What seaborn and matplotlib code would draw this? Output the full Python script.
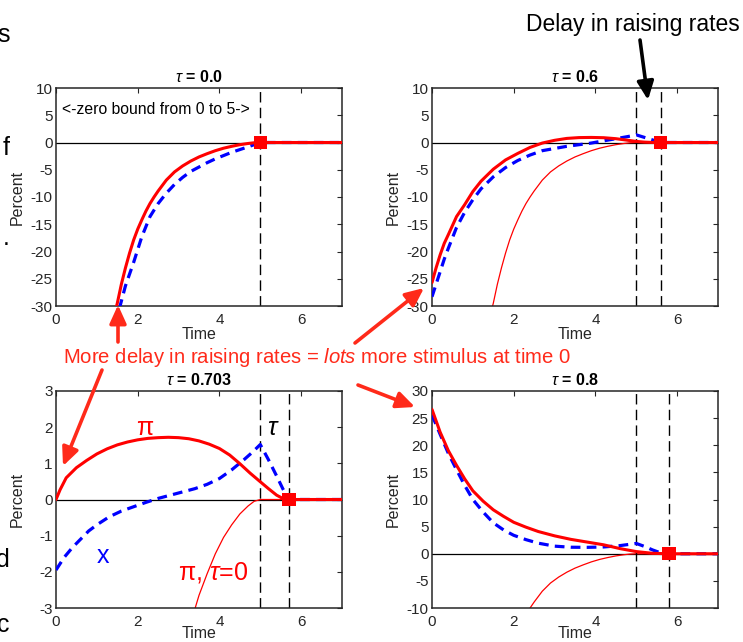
import matplotlib
matplotlib.use("Agg")
import matplotlib.pyplot as plt
import seaborn as sns
from matplotlib.patches import FancyArrowPatch

# ---------------- data ----------------
taus = [0.0, 0.6, 0.703, 0.8]
tau_labels = ["0.0", "0.6", "0.703", "0.8"]

# pi with tau = 0 (thick red in panel 1, thin red in the others)
t_pi0 = [1.45, 1.5, 1.6, 1.7, 1.8, 1.9, 2.0, 2.1, 2.2, 2.3, 2.4, 2.5, 2.6, 2.7, 2.9, 3.1, 3.3,
         3.5, 3.7, 3.9, 4.1, 4.3, 4.5, 4.7, 4.85, 5.0, 7.0]
pi0 = [-31.0, -29.5, -26.0, -23.0, -20.3, -17.9, -15.9, -14.2, -12.6, -11.2, -10.0, -8.9, -7.9,
       -6.9, -5.4, -4.3, -3.4, -2.65, -2.05, -1.5, -1.05, -0.7, -0.4, -0.18, -0.05, 0.0, 0.0]
# x with tau = 0
t_x0 = [1.55, 1.7, 1.9, 2.1, 2.3, 2.5, 2.7, 2.9, 3.1, 3.3, 3.5, 3.7, 3.9, 4.1, 4.3, 4.5, 4.7,
        4.85, 5.0, 7.0]
x0 = [-30.5, -26.3, -22.0, -17.3, -13.6, -11.2, -9.3, -7.7, -6.4, -5.3, -4.5, -3.7, -3.0, -2.4,
      -1.8, -1.3, -0.8, -0.4, 0.0, 0.0]

# tau = 0.6
t_pi1 = [0, 0.1, 0.2, 0.3, 0.4, 0.6, 0.8, 1.0, 1.2, 1.5, 1.8, 2.1, 2.4, 2.7, 3.0, 3.3, 3.6, 3.9,
         4.2, 4.5, 4.8, 5.0, 5.2, 5.4, 5.6, 7.0]
pi1 = [-25.7, -23.0, -20.6, -18.5, -16.9, -13.6, -11.4, -9.0, -7.1, -4.9, -3.2, -2.0, -0.9, -0.1,
       0.4, 0.75, 0.9, 0.93, 0.88, 0.7, 0.4, 0.2, 0.07, 0.01, 0.0, 0.0]
t_x1 = [0, 0.1, 0.2, 0.3, 0.4, 0.6, 0.8, 1.0, 1.2, 1.5, 1.8, 2.1, 2.4, 2.7, 3.0, 3.3, 3.6, 3.9,
        4.2, 4.5, 4.8, 5.0, 5.3, 5.6, 7.0]
x1 = [-28.3, -26.0, -23.7, -21.4, -19.4, -15.6, -12.8, -10.5, -8.5, -6.3, -4.6, -3.3, -2.3, -1.5,
      -1.1, -0.7, -0.4, -0.1, 0.3, 0.7, 1.1, 1.4, 0.7, 0.0, 0.0]

# tau = 0.703
t_pi2 = [0, 0.1, 0.25, 0.5, 0.75, 1.0, 1.25, 1.5, 1.75, 2.0, 2.25, 2.5, 2.75, 3.0, 3.25, 3.5,
         3.75, 4.0, 4.25, 4.5, 4.75, 5.0, 5.2, 5.4, 5.55, 5.7, 7.0]
pi2 = [0.0, 0.27, 0.6, 0.88, 1.08, 1.26, 1.4, 1.51, 1.59, 1.65, 1.69, 1.71, 1.72, 1.71, 1.68,
       1.62, 1.53, 1.41, 1.23, 0.99, 0.73, 0.49, 0.3, 0.12, 0.03, 0.0, 0.0]
t_x2 = [0, 0.2, 0.4, 0.6, 0.8, 1.0, 1.3, 1.6, 1.9, 2.2, 2.5, 2.8, 3.1, 3.4, 3.7, 4.0, 4.3, 4.6,
        4.8, 5.0, 5.2, 5.4, 5.55, 5.7, 7.0]
x2 = [-1.95, -1.6, -1.33, -1.1, -0.87, -0.7, -0.48, -0.32, -0.2, -0.08, 0.03, 0.12, 0.21, 0.3,
      0.42, 0.58, 0.82, 1.1, 1.3, 1.52, 1.1, 0.65, 0.3, 0.0, 0.0]

# tau = 0.8
t_pi3 = [0, 0.2, 0.4, 0.6, 0.8, 1.0, 1.25, 1.5, 1.75, 2.0, 2.3, 2.6, 3.0, 3.4, 3.8, 4.2, 4.6,
         5.0, 5.4, 5.8, 7.0]
pi3 = [26.6, 22.4, 19.0, 16.3, 13.8, 11.6, 9.7, 8.1, 6.9, 5.8, 4.9, 4.1, 3.3, 2.65, 2.15, 1.65,
       0.95, 0.4, 0.08, 0.0, 0.0]
t_x3 = [0, 0.2, 0.4, 0.6, 0.8, 1.0, 1.25, 1.5, 1.75, 2.0, 2.3, 2.6, 3.0, 3.4, 3.8, 4.2, 4.6,
        5.0, 5.2, 5.4, 5.6, 5.8, 7.0]
x3 = [25.6, 22.0, 18.5, 15.5, 12.6, 10.0, 7.7, 5.7, 4.4, 3.4, 2.6, 1.95, 1.4, 1.2, 1.18, 1.25,
      1.5, 1.9, 1.35, 0.7, 0.15, 0.0, 0.0]

pi_t = [t_pi0, t_pi1, t_pi2, t_pi3]
pi_v = [pi0, pi1, pi2, pi3]
x_t = [t_x0, t_x1, t_x2, t_x3]
x_v = [x0, x1, x2, x3]

ylims = [(-30, 10), (-30, 10), (-3, 3), (-10, 30)]
yticks = [list(range(-30, 11, 5)), list(range(-30, 11, 5)), list(range(-3, 4)),
          list(range(-10, 31, 5))]
xticks = [0, 2, 4, 6]
zero_bound_end = 5.0

# ---------------- style ----------------
sns.set_theme(style="white")
plt.rcParams['font.family'] = ['Liberation Sans', 'DejaVu Sans']
plt.rcParams['mathtext.fontset'] = 'custom'
plt.rcParams['mathtext.rm'] = 'Liberation Sans'
plt.rcParams['mathtext.it'] = 'Liberation Sans:italic'
plt.rcParams['mathtext.bf'] = 'Liberation Sans:bold'
plt.rcParams['lines.scale_dashes'] = False
plt.rcParams['axes.unicode_minus'] = False

RED = '#ff0000'
BLUE = '#0000ff'
ANN_RED = '#ff2a1a'
AXC = '#262626'

W, H = 743, 642
fig = plt.figure(figsize=(W / 100, H / 100), dpi=100)


def fx(x):
    return x / W


def fy(y):
    return 1 - y / H


axes_px = [(56, 88, 342, 306), (432, 88, 718, 306), (56, 391, 342, 608), (432, 391, 718, 608)]

for i, (l, t, r, b) in enumerate(axes_px):
    ax = fig.add_axes([fx(l), fy(b), (r - l) / W, (b - t) / H])
    tau = taus[i]
    ax.axhline(0, color='black', lw=0.9, zorder=1)
    if i > 0:
        sns.lineplot(x=t_pi0, y=pi0, ax=ax, color=RED, lw=0.9, estimator=None, zorder=2)
    sns.lineplot(x=x_t[i], y=x_v[i], ax=ax, color=BLUE, lw=2.3, linestyle=(0, (7, 4.5)),
                 estimator=None, zorder=3)
    sns.lineplot(x=pi_t[i], y=pi_v[i], ax=ax, color=RED, lw=2.2, estimator=None, zorder=4)
    ax.axvline(zero_bound_end, color='black', lw=1.0, linestyle=(0, (7.5, 3.8)), zorder=2)
    if tau > 0:
        ax.axvline(zero_bound_end + tau, color='black', lw=1.0, linestyle=(0, (7.5, 3.8)),
                   zorder=2)
    sns.scatterplot(x=[zero_bound_end + tau], y=[0], ax=ax, marker='s', s=90, color=RED,
                    edgecolor='none', zorder=6)

    ax.set_xlim(0, 7)
    ax.set_ylim(*ylims[i])
    ax.set_xticks(xticks)
    ax.set_yticks(yticks[i])
    ax.tick_params(direction='in', top=True, right=True, length=3.5, width=0.8,
                   labelsize=11, colors=AXC)
    ax.tick_params(axis='x', pad=5)
    ax.tick_params(axis='y', pad=2.5)
    for sp in ax.spines.values():
        sp.set_color(AXC)
        sp.set_linewidth(1.1)
    ax.set_xlabel("Time", fontsize=11.5, color=AXC)
    ax.set_ylabel("Percent", fontsize=11.5, color=AXC)
    ax.xaxis.set_label_coords(0.5, -0.095 if i < 2 else -0.082)
    ax.yaxis.set_label_coords(-0.11, 0.5)
    ax.xaxis.label.set_va('top')
    ax.set_title(r"$\tau$ = " + tau_labels[i], fontsize=11.5, fontweight='bold', color='black',
                 pad=4)

    if i == 0:
        ax.text(0.15, 6.1, "<-zero bound from 0 to 5->", fontsize=11.3, color='black',
                va='center', ha='left')
    if i == 2:
        ax.text(2.18, 1.97, "π", fontsize=18, color=RED, ha='center', va='center')
        ax.text(5.32, 1.97, r"$\tau$", fontsize=18, color='black', ha='center', va='center')
        ax.text(1.16, -1.55, "x", fontsize=18, color=BLUE, ha='center', va='center')
        ax.text(3.85, -2.03, r"π, $\tau$=0", fontsize=18, color=RED, ha='center', va='center')

# ---------------- slide annotations ----------------
fig.text(fx(740), fy(24), "Delay in raising rates", ha='right', va='center', fontsize=16.5,
         color='black')
fig.text(fx(63), fy(358), r"More delay in raising rates = $\mathit{lots}$ more stimulus at time 0",
         ha='left', va='center', fontsize=14.6, color=ANN_RED)

# cut-off slide letters at the left edge (they are cut in the reference too)
for ch, yy in [("s", 35), ("f", 148), (".", 238), ("d", 560), ("c", 625)]:
    fig.text(fx(10), fy(yy), ch, ha='right', va='center', fontsize=18, color='black')


def arrow(p0, p1, color, lw=2.6):
    a = FancyArrowPatch((fx(p0[0]), fy(p0[1])), (fx(p1[0]), fy(p1[1])),
                        transform=fig.transFigure, arrowstyle='-|>,head_length=1.1,head_width=0.5',
                        mutation_scale=10, color=color, lw=lw, shrinkA=0, shrinkB=0)
    fig.add_artist(a)


arrow((118, 342), (118, 305), ANN_RED)
arrow((355, 343), (424, 288), ANN_RED)
arrow((358, 385), (415, 407), ANN_RED)
arrow((102, 370), (63, 466), ANN_RED)
arrow((640, 40), (648, 100), 'black')

fig.savefig("out.png", dpi=100)
